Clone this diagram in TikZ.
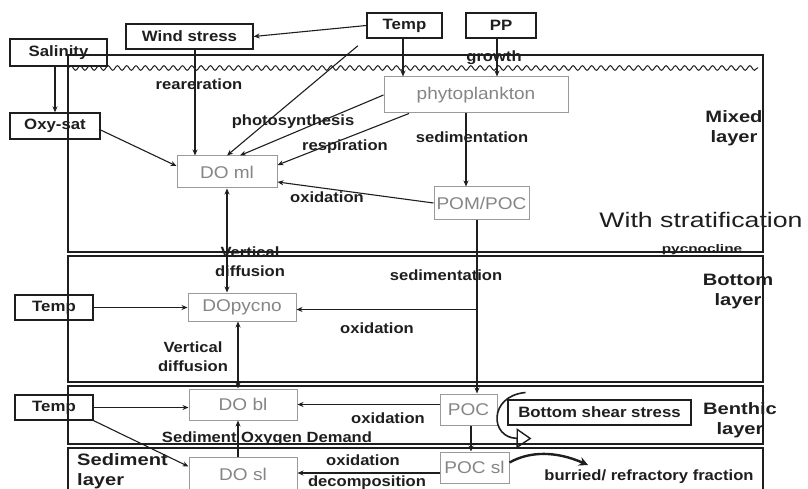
\documentclass[tikz,border=0pt]{standalone}
\usepackage{fontspec}
\setmainfont{Liberation Sans}[FakeStretch=1.12]
\newfontfamily\layerfont{Liberation Sans}[FakeStretch=1.22]
\newfontfamily\stratfont{Liberation Sans}[FakeStretch=1.27]
\newfontfamily\pycfont{Liberation Sans}[FakeStretch=1.4]
\usetikzlibrary{arrows.meta,decorations.pathmorphing,calc}
\definecolor{ink}{HTML}{1E1E1E}
\definecolor{boxgray}{HTML}{9A9A9A}
\definecolor{txtgray}{HTML}{858585}
\tikzset{
  blackbox/.style={draw=ink, line width=1.3pt, inner sep=0pt,
    font=\fontsize{15}{17}\selectfont\bfseries, text=ink},
  graybox/.style={draw=boxgray, line width=1pt, inner sep=0pt,
    font=\fontsize{17}{19}\selectfont, text=txtgray},
  lab/.style={inner sep=0pt, font=\fontsize{14.8}{19}\selectfont\bfseries,
    text=ink, align=center},
  layerlab/.style={inner sep=0pt, font=\layerfont\fontsize{16.5}{20}\selectfont\bfseries,
    text=ink, align=center},
  arr/.style={draw=ink, line width=1.1pt, -{Stealth[length=6pt,width=5pt]}},
  darr/.style={draw=ink, line width=1.1pt,
    {Stealth[length=6pt,width=5pt]}-{Stealth[length=6pt,width=5pt]}},
  frame/.style={draw=ink, line width=1.3pt},
}
\begin{document}
\begin{tikzpicture}[x=1pt,y=-1pt]
\useasboundingbox (0,0) rectangle (808,489);
\clip (0,0) rectangle (808,489);

% layer frames
\draw[frame] (68,55) rectangle (763,252);
\draw[frame] (68,256) rectangle (763,382);
\draw[frame] (68,386) rectangle (763,444);
\draw[frame] (68,448) rectangle (763,494);
% water surface
\draw[ink, line width=1pt, decorate,
  decoration={snake, segment length=9.3pt, amplitude=2.3pt}] (68,68) -- (758,68);

% forcing boxes
\node[blackbox, minimum width=97pt, minimum height=27pt] (sal) at (58.5,52.5) {Salinity};
\node[blackbox, minimum width=127pt, minimum height=25pt] (wind) at (189.5,36.5) {Wind stress};
\node[blackbox, minimum width=75pt, minimum height=25pt] (temp1) at (404.5,25.5) {Temp};
\node[blackbox, minimum width=70pt, minimum height=25pt] (pp) at (501,25.5) {PP};
\node[blackbox, minimum width=90pt, minimum height=26pt] (oxy) at (55,126) {Oxy-sat};
\node[blackbox, minimum width=78pt, minimum height=25pt] (temp2) at (54,307.5) {Temp};
\node[blackbox, minimum width=78pt, minimum height=25pt] (temp3) at (54,407.5) {Temp};
\node[blackbox, minimum width=183pt, minimum height=25pt] (shear) at (599.5,412.5) {Bottom shear stress};

% state variables
\node[graybox, minimum width=184pt, minimum height=36pt] (phyto) at (476,95) {phytoplankton};
\node[graybox, minimum width=100pt, minimum height=32pt] (doml) at (227,172) {DO ml};
\node[graybox, minimum width=95pt, minimum height=32pt] (pom) at (481.5,203) {POM/POC};
\node[graybox, minimum width=108pt, minimum height=28pt] (dopy) at (242,307) {DOpycno};
\node[graybox, minimum width=108pt, minimum height=31pt] (dobl) at (243,404.5) {DO bl};
\node[graybox, minimum width=108pt, minimum height=34pt] (dosl) at (243,474) {DO sl};
\node[graybox, minimum width=57pt, minimum height=31pt] (poc) at (468.5,409.5) {POC};
\node[graybox, minimum width=69pt, minimum height=31pt] (pocsl) at (474.5,467.5) {POC sl};

% fluxes
\draw[arr] (temp1.west) -- (wind.east);
\draw[arr] ([xshift=-1.5]temp1.south) -- ([xshift=-1.5]temp1.south |- phyto.north);
\draw[arr] ([xshift=-4]pp.south) -- ([xshift=-4]pp.south |- phyto.north);
\draw[arr] ([xshift=-3.5]sal.south) -- ([xshift=-3.5]sal.south |- oxy.north);
\draw[arr] ([xshift=5.5]wind.south) -- ([xshift=5.5]wind.south |- doml.north);
\draw[arr, shorten <=11pt] (temp1.south west) -- (doml.north);
\draw[arr] (phyto.west) -- ([xshift=13]doml.north);
\draw[arr] ([xshift=-67]phyto.south) -- ([yshift=7]doml.east);
\draw[arr] ([yshift=-4]oxy.east) -- ([yshift=6]doml.west);
\draw[arr] ([xshift=-10]phyto.south) -- ([xshift=-10]phyto.south |- pom.north);
\draw[arr] (pom.west) -- ([yshift=-10]doml.east);
\draw[darr] (doml.south) -- (doml.south |- dopy.north);
\draw[arr] (temp2.east) -- (temp2.east -| dopy.west);
\draw[arr] ([xshift=-4.5]pom.south) -- ([xshift=-4.5]pom.south |- poc.north);
\coordinate (branch) at ($(pom.south)+(-4.5,90)$);
\draw[arr] (branch) -- (branch -| dopy.east);
\draw[darr] ([xshift=-4]dopy.south) -- ([xshift=-4]dopy.south |- dobl.north);
\draw[arr] (temp3.east) -- (temp3.east -| dobl.west);
\draw[arr] (temp3.south east) -- ([yshift=-10]dosl.north west);
\draw[arr] ([yshift=5]poc.west) -- ([yshift=5]poc.west -| dobl.east);
\draw[arr] ([xshift=2.5]poc.south) -- ([xshift=2.5]poc.south |- pocsl.north);
\draw[arr] ([yshift=-5.5]pocsl.west) -- ([yshift=-5.5]pocsl.west -| dosl.east);
\draw[arr] ([xshift=-5]dosl.north) -- ([xshift=-5]dosl.north |- dobl.south);

% resuspension and burial
\coordinate (rs1) at ($(poc.north east)+(28,-1)$);
\coordinate (rs2) at ($(poc.south east)+(34,13)$);
\draw[ink, line width=1.6pt,
  -{Triangle[open, length=15pt, width=20pt, line width=1.4pt]}]
  (rs1) .. controls (488,396) and (490,438) .. (rs2);
\coordinate (bu) at (588,465);
\draw[ink, line width=2.4pt, -{Stealth[length=9pt,width=9pt]}]
  ([yshift=5]pocsl.east) .. controls (530,451) and (556,451) .. (bu);

% process labels
\node[lab] (lgrowth) at (494,58) {growth};
\node[lab] (lrear) at (199,84) {reareration};
\node[lab] (lphoto) at (293,122) {photosynthesis};
\node[lab] (lresp) at (345,147) {respiration};
\node[lab] (lsed1) at (472,137) {sedimentation};
\node[lab] (lox1) at (327,197) {oxidation};
\node[lab] (lvd1) at (250,262) {Vertical\\diffusion};
\node[lab] (lsed2) at (446,275) {sedimentation};
\node[lab] (lox2) at (377,328) {oxidation};
\node[lab] (lvd2) at (193,357) {Vertical\\diffusion};
\node[lab] (lox3) at (388,418) {oxidation};
\node[lab] (lsod) at (267,439) {Sediment Oxygen Demand};
\node[lab] (lox4) at (363,460) {oxidation};
\node[lab] (ldec) at (367,482.5) {decomposition};
\node[lab] (lburr) at (649,477) {burried/ refractory fraction};

% layer labels
\node[layerlab] (lmixed) at (734,128) {Mixed\\layer};
\node[layerlab] (lbottom) at (738,292) {Bottom\\layer};
\node[layerlab] (lbenthic) at (740,420) {Benthic\\layer};
\node[layerlab, align=left, anchor=west] (lsedi) at (77,471.5) {Sediment\\layer};
\node[inner sep=0pt, text=ink, font=\stratfont\fontsize{21}{24}\selectfont] (lstrat) at (701,220) {With stratification};
\node[inner sep=0pt, text=ink, font=\pycfont\fontsize{11}{13}\selectfont\bfseries] (lpyc) at (702,250) {pycnocline};
\end{tikzpicture}
\end{document}
